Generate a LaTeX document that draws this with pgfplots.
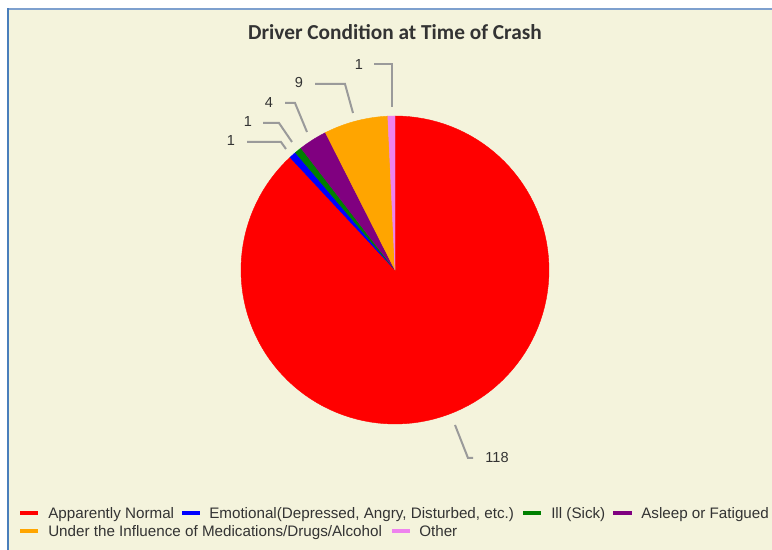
\documentclass[border=0pt]{standalone}
\usepackage{pgfplots}
\pgfplotsset{compat=1.18}
\usepackage{pgfplotstable}
\usepgfplotslibrary{polar}
\usepackage{fontspec}
\setmainfont{Liberation Sans}
\newfontfamily\titlefont{Carlito}

\definecolor{chartbg}{HTML}{F4F3DC}
\definecolor{frameblue}{HTML}{4A7EBB}
\definecolor{frametop}{HTML}{7EA0CE}
\definecolor{textdark}{HTML}{333333}
\definecolor{leader}{HTML}{9A9A9A}
\definecolor{cNormal}{HTML}{FF0000}
\definecolor{cEmotional}{HTML}{0000FF}
\definecolor{cIll}{HTML}{008000}
\definecolor{cAsleep}{HTML}{800080}
\definecolor{cInfluence}{HTML}{FFA500}
\definecolor{cOther}{HTML}{EE82EE}

% crash counts by driver condition, legend order (clockwise from 12 o'clock)
\pgfplotstableread{
idx count
0 118
1 1
2 1
3 4
4 9
5 1
}\crashdata

% total, then start/end angle of every slice
\def\total{0}
\pgfplotsforeachungrouped \i in {0,...,5}{%
  \pgfplotstablegetelem{\i}{count}\of\crashdata
  \pgfmathsetmacro\total{\total+\pgfplotsretval}%
}
\def\cum{0}
\pgfplotsforeachungrouped \i in {0,...,5}{%
  \pgfplotstablegetelem{\i}{count}\of\crashdata
  \expandafter\xdef\csname pv\i\endcsname{\pgfplotsretval}%
  \pgfmathsetmacro\pe{90-360*(\cum/\total)}%
  \pgfmathsetmacro\cum{\cum+\pgfplotsretval}%
  \pgfmathsetmacro\ps{90-360*(\cum/\total)}%
  \expandafter\xdef\csname pe\i\endcsname{\pe}%
  \expandafter\xdef\csname ps\i\endcsname{\ps}%
}

\newcommand\slice[2]{%
  \edef\tmp{\noexpand\addplot[fill=#2, draw=#2, line width=0.3pt, forget plot,
    domain=\csname ps#1\endcsname:\csname pe#1\endcsname, samples=120]
    {1} -- (axis cs:0,0) -- cycle;}%
  \tmp}

\newcommand\legfont{\fontsize{11.4pt}{13pt}\selectfont}
\newcommand\labfont{\fontsize{10.9pt}{13pt}\selectfont}

\begin{document}
\begin{tikzpicture}[x=0.75pt, y=0.75pt]
\useasboundingbox (0,0) rectangle (772,550);
\fill[white] (0,0) rectangle (772,550);
\fill[chartbg] (8,0) rectangle (772,541);
\draw[frametop, line width=1.5pt] (7,541) -- (772,541);
\draw[frameblue, line width=1.5pt] (7.7,0) -- (7.7,542);

\node[text=textdark, font=\titlefont\bfseries\fontsize{16pt}{19pt}\selectfont]
  at (395,518) {Driver Condition at Time of Crash};

% pie centre at (395px, 280px): given in pt
\begin{polaraxis}[
  at={(296.25pt,210pt)}, anchor=center,
  width=231pt, height=231pt, scale only axis,
  hide axis, ymin=0, ymax=1, clip=false,
]
\slice{0}{cNormal}
\slice{1}{cEmotional}
\slice{2}{cIll}
\slice{3}{cAsleep}
\slice{4}{cInfluence}
\slice{5}{cOther}
\end{polaraxis}

% data labels with connectors
\begin{scope}[leader, line width=1.5pt]
\draw (392,443) -- (392,486) -- (374,486);
\draw (353,437) -- (345,466) -- (315,466);
\draw (307,418) -- (295,447) -- (285,447);
\draw (292,408) -- (279,427) -- (263,427);
\draw (286,401) -- (281,408) -- (247,408);
\draw (455,125) -- (468,92) -- (473,92);
\end{scope}
\begin{scope}[every node/.style={text=textdark, font=\labfont, inner sep=0pt}]
\node at (359,485) {\csname pv5\endcsname};
\node at (299,467) {\csname pv4\endcsname};
\node at (269,447) {\csname pv3\endcsname};
\node at (248,428) {\csname pv2\endcsname};
\node at (231,409) {\csname pv1\endcsname};
\node at (497,93) {\csname pv0\endcsname};
\end{scope}

% legend
\begin{scope}[line width=3pt]
\draw[cNormal] (20,37) -- (38,37);
\draw[cEmotional] (182,37) -- (200,37);
\draw[cIll] (523,37) -- (541,37);
\draw[cAsleep] (613,37) -- (632,37);
\draw[cInfluence] (20,19) -- (38,19);
\draw[cOther] (392,19) -- (410,19);
\end{scope}
\begin{scope}[every node/.style={text=textdark, font=\legfont, inner sep=0pt, anchor=base west}]
\node at (48,31.6) {Apparently Normal};
\node at (209,31.6) {Emotional(Depressed, Angry, Disturbed, etc.)};
\node at (551,31.6) {Ill (Sick)};
\node at (641,31.6) {Asleep or Fatigued};
\node at (48,13.6) {Under the Influence of Medications/Drugs/Alcohol};
\node at (419,13.6) {Other};
\end{scope}
\end{tikzpicture}
\end{document}
